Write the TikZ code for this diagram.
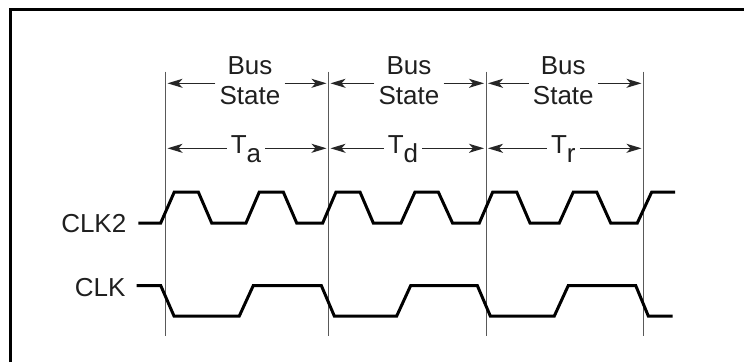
\documentclass[tikz,border=0pt]{standalone}
\usepackage{fontspec}
\setmainfont{Liberation Sans}
\usetikzlibrary{arrows.meta}
\begin{document}
\begin{tikzpicture}[x=1pt,y=-1pt]
\tikzset{
  frameline/.style={line width=3pt, draw=black},
  vline/.style={line width=1pt, draw=black!65},
  dimarrow/.style={line width=1.3pt, draw=black!85, -{Stealth[length=15pt,width=9pt,inset=4pt]}},
  wave/.style={line width=3pt, draw=black, line join=miter},
  lbl/.style={font=\fontsize{26}{30}\selectfont, text=black!88, inner sep=0pt},
  bslbl/.style={lbl, align=center, inner xsep=4pt, inner ysep=0pt},
  tlbl/.style={lbl, inner xsep=4pt},
}
\useasboundingbox (0,0) rectangle (744,362);
% frame
\coordinate (fbl) at (10.5,362);
\coordinate (ftl) at (10.5,9.5);
\coordinate (ftr) at (744,9.5);
\draw[frameline] (fbl) -- (ftl) -- (ftr);
% vertical boundary lines
\foreach \i/\x in {0/165.5,1/328.5,2/486,3/643.5}{
  \coordinate (vt\i) at (\x,71.5);
  \coordinate (vb\i) at (\x,336);
  \draw[vline] (vt\i) -- (vb\i);
}
% labels
\node[bslbl] (bs1) at (250,80.9) {Bus\\State};
\node[bslbl] (bs2) at (409,80.9) {Bus\\State};
\node[bslbl] (bs3) at (563.3,80.9) {Bus\\State};
\node[tlbl, anchor=base] (t1) at (246,153.3) {T\raisebox{-9pt}{a}};
\node[tlbl, anchor=base] (t2) at (403,153.3) {T\raisebox{-9pt}{d}};
\node[tlbl, anchor=base] (t3) at (563.3,153.3) {T\raisebox{-9pt}{r}};
% arrow tips
\coordinate (bsA1) at (167.5,83.3); \coordinate (bsB1) at (326.5,83.3);
\coordinate (bsA2) at (330.5,83.3); \coordinate (bsB2) at (484,83.3);
\coordinate (bsA3) at (488,83.3);   \coordinate (bsB3) at (641.5,83.3);
\coordinate (tA1) at (167.5,148.3); \coordinate (tB1) at (326.5,148.3);
\coordinate (tA2) at (330.5,148.3); \coordinate (tB2) at (484,148.3);
\coordinate (tA3) at (488,148.3);   \coordinate (tB3) at (641.5,148.3);
\foreach \k in {1,2,3}{
  \draw[dimarrow] (bs\k.west |- bsA\k) -- (bsA\k);
  \draw[dimarrow] (bs\k.east |- bsB\k) -- (bsB\k);
  \draw[dimarrow] (t\k.west |- tA\k) -- (tA\k);
  \draw[dimarrow] (t\k.east |- tB\k) -- (tB\k);
}
% signal names
\node[lbl, anchor=base east] (clk2) at (126.5,232.3) {CLK2};
\node[lbl, anchor=base east] (clk) at (125.7,296.5) {CLK};
% CLK2 waveform
\draw[wave] (138.3,223) -- (160.7,223) -- (174.3,192) -- (198.3,192) -- (211.7,223)
  -- (246,223) -- (259.3,192) -- (283.3,192) -- (296.7,223)
  -- (322.7,223) -- (336,192) -- (360,192) -- (373.3,223)
  -- (401,223) -- (415,192) -- (438.3,192) -- (452.5,223)
  -- (479.3,223) -- (492.7,192) -- (516.7,192) -- (530,223)
  -- (559.3,223) -- (573.3,192) -- (596.7,192) -- (610.7,223)
  -- (637.3,223) -- (651.7,192) -- (675,192);
% CLK waveform
\draw[wave] (136.7,285.5) -- (160.7,285.5) -- (174,316) -- (239.3,316) -- (253.3,285.5)
  -- (321.3,285.5) -- (334.3,316) -- (396.7,316) -- (410.7,285.5)
  -- (477.3,285.5) -- (490.3,316) -- (554.3,316) -- (568.3,285.5)
  -- (635.7,285.5) -- (648.3,316) -- (672.7,316);
\end{tikzpicture}
\end{document}
